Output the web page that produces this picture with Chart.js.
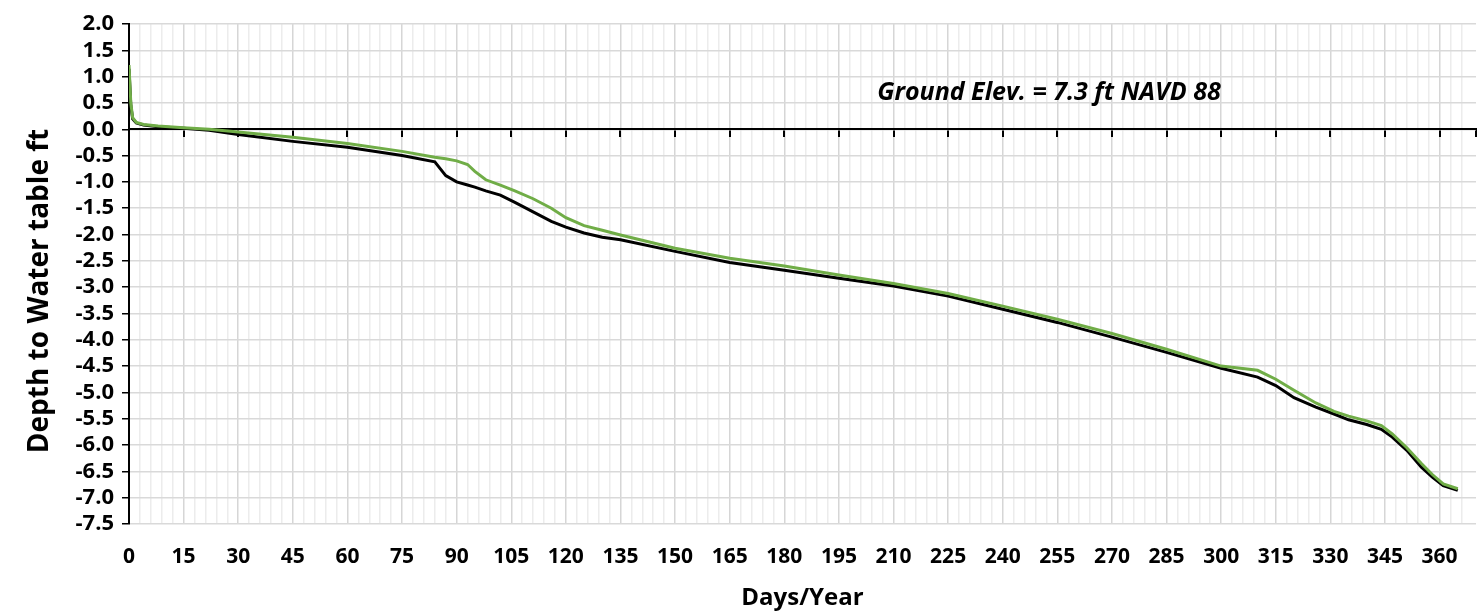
<!DOCTYPE html>
<html>
<head>
<meta charset="utf-8">
<script src="https://cdn.jsdelivr.net/npm/chart.js@4/dist/chart.umd.min.js"></script>
<style>
  html, body { margin: 0; padding: 0; background: #fff; }
  #wrap { width: 1484px; height: 613px; position: relative; }
</style>
</head>
<body>
<div id="wrap"><canvas id="grafic-adancime"></canvas></div>
<script>
// zile din an (axa X) și adâncimea apei freatice, ft
const zile = [0, 0.5, 1, 2, 4, 8, 15, 22, 30, 45, 60, 75, 84, 87, 90, 93, 95, 98, 102, 106,
  111, 116, 120, 125, 130, 135, 150, 165, 180, 195, 210, 225, 240, 255, 270, 285, 300,
  310, 315, 320, 326, 331, 335, 340, 344, 347, 351, 355, 358, 361, 365];

const adancimeVerde = [1.22, 0.5, 0.22, 0.13, 0.09, 0.06, 0.03, 0.0, -0.05, -0.15, -0.27, -0.42,
  -0.53, -0.56, -0.6, -0.67, -0.8, -0.96, -1.06, -1.17, -1.32, -1.5, -1.68, -1.83, -1.92, -2.01,
  -2.26, -2.45, -2.6, -2.77, -2.93, -3.12, -3.36, -3.61, -3.88, -4.18, -4.5, -4.58, -4.75, -4.96,
  -5.2, -5.36, -5.45, -5.54, -5.63, -5.79, -6.05, -6.35, -6.56, -6.74, -6.83];

const adancimeNegru = [1.15, 0.45, 0.2, 0.12, 0.08, 0.05, 0.02, -0.02, -0.1, -0.23, -0.34, -0.5,
  -0.62, -0.88, -1.0, -1.06, -1.1, -1.17, -1.25, -1.39, -1.57, -1.75, -1.86, -1.97, -2.05, -2.1,
  -2.32, -2.53, -2.68, -2.83, -2.98, -3.17, -3.42, -3.67, -3.95, -4.24, -4.54, -4.71, -4.87, -5.1,
  -5.28, -5.41, -5.52, -5.61, -5.7, -5.85, -6.1, -6.42, -6.61, -6.77, -6.86];

const axaY = { min: -7.5, max: 2.0, pas: 0.5 };
const axaX = { min: 0, max: 370, pasGrila: 3, pasEticheta: 15 };

const eticheta = { text: 'Ground Elev. = 7.3 ft NAVD 88', zi: 205.5, valoare: 0.7 };
const titluY = 'Depth to Water table ft';

const FONT = '"Open Sans", "DejaVu Sans", sans-serif';

const puncte = (valori) => zile.map((z, i) => ({ x: z, y: valori[i] }));

// textul cu cota terenului + titlul vertical al axei Y
const pluginText = {
  id: 'texteGrafic',
  afterDraw(chart) {
    const { ctx, scales } = chart;
    ctx.save();
    ctx.fillStyle = '#000';
    ctx.textBaseline = 'middle';

    ctx.font = `italic bold 25px ${FONT}`;
    ctx.textAlign = 'left';
    ctx.fillText(eticheta.text, scales.x.getPixelForValue(eticheta.zi), scales.y.getPixelForValue(eticheta.valoare));

    ctx.font = `bold 28px ${FONT}`;
    ctx.textAlign = 'center';
    ctx.translate(40, 291);
    ctx.rotate(-Math.PI / 2);
    ctx.fillText(titluY, 0, 0);
    ctx.restore();
  }
};

function faraPadding(scale) {
  scale.paddingTop = 0;
  scale.paddingBottom = 0;
  scale.paddingLeft = 0;
  scale.paddingRight = 0;
}

new Chart(document.getElementById('grafic-adancime'), {
  type: 'line',
  data: {
    datasets: [
      {
        label: 'Verde',
        data: puncte(adancimeVerde),
        borderColor: '#70ad47',
        borderWidth: 3,
        pointRadius: 0,
        tension: 0
      },
      {
        label: 'Negru',
        data: puncte(adancimeNegru),
        borderColor: '#000000',
        borderWidth: 3,
        pointRadius: 0,
        tension: 0
      }
    ]
  },
  options: {
    responsive: true,
    maintainAspectRatio: false,
    animation: false,
    layout: { padding: { top: 24, right: 8, left: 0, bottom: 0 } },
    plugins: { legend: { display: false }, tooltip: { enabled: false } },
    scales: {
      x: {
        type: 'linear',
        position: 'bottom',
        min: axaX.min,
        max: axaX.max,
        afterFit(scale) { scale.height = 89; faraPadding(scale); },
        border: { display: false },
        grid: {
          drawTicks: false,
          lineWidth: 1.5,
          color: (c) => {
            const v = c.tick ? c.tick.value : 0;
            if (v === axaX.max) return 'rgba(0,0,0,0)';
            return v % axaX.pasEticheta === 0 ? '#d6d6d6' : '#ececec';
          }
        },
        ticks: {
          stepSize: axaX.pasGrila,
          autoSkip: false,
          maxRotation: 0,
          padding: 20,
          color: '#000',
          font: { family: FONT, size: 21, weight: 'bold' },
          callback: (v) => (v % axaX.pasEticheta === 0 && v !== axaX.max ? v : '')
        },
        title: {
          display: true,
          text: 'Days/Year',
          color: '#000',
          padding: { top: 0, bottom: 0 },
          font: { family: FONT, size: 24, weight: 'bold' }
        }
      },
      // linia de zero cu gradatii la 15 zile
      x2: {
        type: 'linear',
        axis: 'x',
        position: { y: 0 },
        min: axaX.min,
        max: axaX.max,
        afterFit: faraPadding,
        border: { display: true, color: '#000', width: 2 },
        grid: { drawOnChartArea: false, drawTicks: true, tickLength: 7, tickColor: '#000', lineWidth: 2 },
        ticks: { display: false, stepSize: axaX.pasEticheta, autoSkip: false }
      },
      y: {
        type: 'linear',
        position: 'left',
        min: axaY.min,
        max: axaY.max,
        afterFit(scale) { scale.width = 129; faraPadding(scale); },
        border: { display: true, color: '#000', width: 2 },
        grid: { color: '#d9d9d9', lineWidth: 1.5, tickLength: 7, tickColor: '#000' },
        ticks: {
          stepSize: axaY.pas,
          autoSkip: false,
          padding: 8,
          color: '#000',
          font: { family: FONT, size: 22, weight: 'bold' },
          callback: (v) => v.toFixed(1)
        }
      }
    }
  },
  plugins: [pluginText]
});
</script>
</body>
</html>
